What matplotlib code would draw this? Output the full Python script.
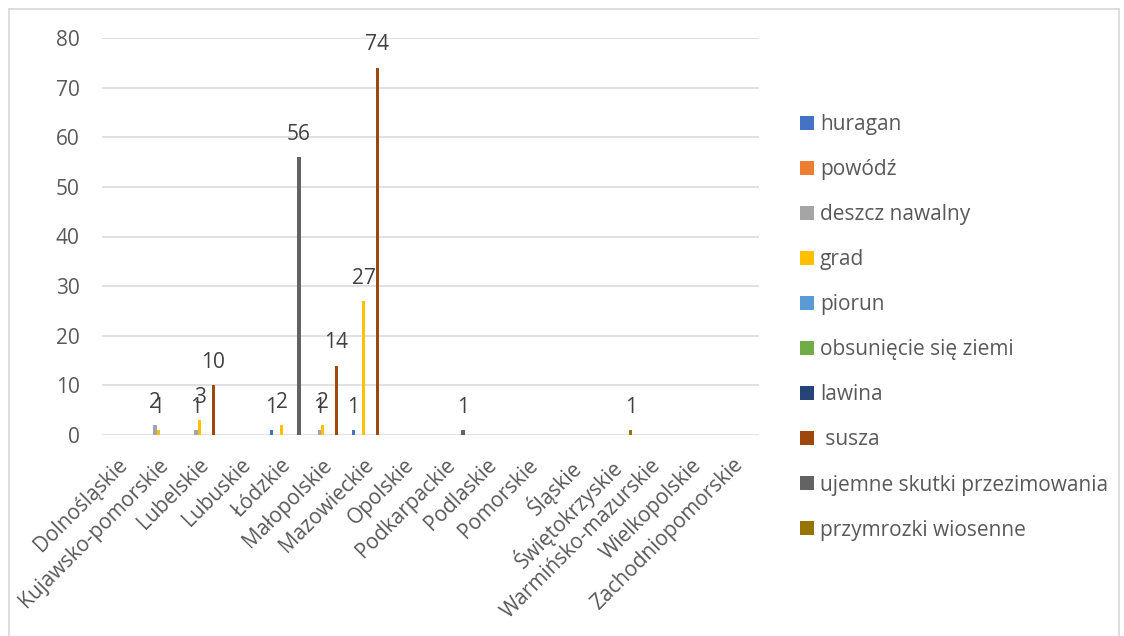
import numpy as np
import matplotlib.pyplot as plt
from matplotlib.lines import Line2D
import matplotlib.transforms as mtransforms

plt.rcParams['font.family'] = ['Open Sans', 'DejaVu Sans']

regions = ['Dolnośląskie', 'Kujawsko-pomorskie', 'Lubelskie', 'Lubuskie', 'Łódzkie',
           'Małopolskie', 'Mazowieckie', 'Opolskie', 'Podkarpackie', 'Podlaskie',
           'Pomorskie', 'Śląskie', 'Świętokrzyskie', 'Warmińsko-mazurskie',
           'Wielkopolskie', 'Zachodniopomorskie']

series_names = ['huragan', 'powódź', 'deszcz nawalny', 'grad', 'piorun',
                'obsunięcie się ziemi', 'lawina', ' susza',
                'ujemne skutki przezimowania', 'przymrozki wiosenne']
colors = ['#4472C4', '#ED7D31', '#A5A5A5', '#FFC000', '#5B9BD5',
          '#70AD47', '#264478', '#9E480E', '#636363', '#997300']

#            Dol Kuj Lbl Lbs Łód Mał Maz Opo Pkr Pdl Pom Śl Świ War Wlk Zach
huragan     = [0, 0, 0, 0, 1, 0, 1, 0, 0, 0, 0, 0, 0, 0, 0, 0]
powodz      = [0, 0, 0, 0, 0, 0, 0, 0, 0, 0, 0, 0, 0, 0, 0, 0]
deszcz      = [0, 2, 1, 0, 0, 1, 0, 0, 0, 0, 0, 0, 0, 0, 0, 0]
grad        = [0, 1, 3, 0, 2, 2, 27, 0, 0, 0, 0, 0, 0, 0, 0, 0]
piorun      = [0, 0, 0, 0, 0, 0, 0, 0, 0, 0, 0, 0, 0, 0, 0, 0]
obsuniecie  = [0, 0, 0, 0, 0, 0, 0, 0, 0, 0, 0, 0, 0, 0, 0, 0]
lawina      = [0, 0, 0, 0, 0, 0, 0, 0, 0, 0, 0, 0, 0, 0, 0, 0]
susza       = [0, 0, 10, 0, 0, 14, 74, 0, 0, 0, 0, 0, 0, 0, 0, 0]
ujemne      = [0, 0, 0, 0, 56, 0, 0, 0, 1, 0, 0, 0, 0, 0, 0, 0]
przymrozki  = [0, 0, 0, 0, 0, 0, 0, 0, 0, 0, 0, 0, 1, 0, 0, 0]

data = [huragan, powodz, deszcz, grad, piorun, obsuniecie, lawina, susza, ujemne, przymrozki]

W, H = 1124, 636
fig = plt.figure(figsize=(W / 100, H / 100), dpi=100)
ax = fig.add_axes([102 / W, 1 - 435 / H, (759 - 102) / W, (435 - 38) / H])

x = np.arange(len(regions))
bw = 0.0836
for i, (vals, name, c) in enumerate(zip(data, series_names, colors)):
    bars = ax.bar(x + (i - 4.5) * bw, vals, bw, color=c, label=name, linewidth=0, zorder=3)
    labs = [str(v) if v else '' for v in vals]
    ax.bar_label(bars, labels=labs, padding=9, fontsize=15, color='#404040')

ax.set_xlim(-0.5, len(regions) - 0.5)
ax.set_ylim(0, 80)
ax.set_yticks(range(0, 81, 10))
ax.grid(axis='y', color='#d9d9d9', linewidth=1.1, zorder=0)
for s in ax.spines.values():
    s.set_visible(False)
ax.tick_params(length=0, labelcolor='#595959', labelsize=15)
ax.tick_params(axis='y', pad=16)
ax.tick_params(axis='x', pad=14)
ax.set_xticks(x)
ax.set_xticklabels(regions, rotation=45, ha='right', va='top', rotation_mode='anchor')
shift = mtransforms.ScaledTranslation(-6 / 100, 0, fig.dpi_scale_trans)
for lbl in ax.get_xticklabels():
    lbl.set_transform(lbl.get_transform() + shift)

leg = fig.legend(loc='upper left', bbox_to_anchor=(800 / W, 1 - 114 / H),
                 frameon=False, fontsize=15, labelspacing=1.155,
                 handlelength=0.67, handleheight=0.67, handletextpad=0.28,
                 borderpad=0, borderaxespad=0)
for t in leg.get_texts():
    t.set_color('#595959')

# chart border
bc = '#d9d9d9'
fig.add_artist(Line2D([9 / W, 9 / W], [0, 1 - 9 / H], color=bc, lw=1.2))
fig.add_artist(Line2D([9 / W, 1119 / W], [1 - 9 / H, 1 - 9 / H], color=bc, lw=1.2))
fig.add_artist(Line2D([1119 / W, 1119 / W], [0, 1 - 9 / H], color=bc, lw=1.2))

fig.savefig('out.png', dpi=100)
